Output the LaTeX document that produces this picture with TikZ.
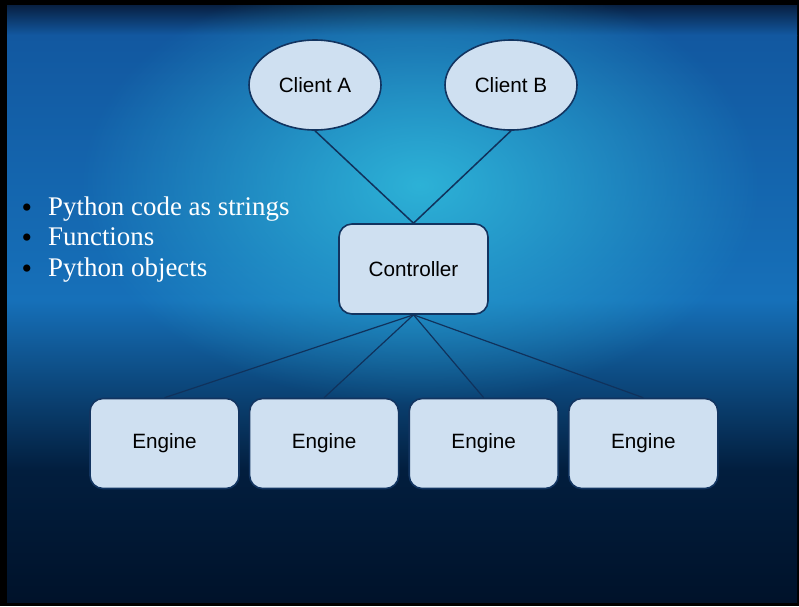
\documentclass[tikz,border=0pt]{standalone}
\usepackage{fontspec}
\setmainfont{Liberation Serif}
\setsansfont{Liberation Sans}
\usepackage{xcolor}
\usetikzlibrary{positioning,shapes.geometric,fadings}

\definecolor{edgedark}{RGB}{8,32,66}
\definecolor{upblue}{RGB}{18,88,160}
\definecolor{midblue}{RGB}{22,112,185}
\definecolor{lowblue}{RGB}{2,30,62}
\definecolor{navy}{RGB}{0,18,42}
\definecolor{glowcyan}{RGB}{45,178,215}
\definecolor{boxfill}{RGB}{207,224,241}
\definecolor{boxline}{RGB}{18,52,96}
\definecolor{wire}{RGB}{16,50,92}
\tikzfading[name=glowfade,inner color=transparent!0,outer color=transparent!100]

\begin{document}
\begin{tikzpicture}[x=1pt,y=-1pt,node distance=9pt]
\tikzstyle{client}=[ellipse,draw=boxline,line width=1.6pt,fill=boxfill,minimum width=132pt,minimum height=90pt,inner sep=0pt,font=\sffamily\fontsize{20.7}{24}\selectfont]
\tikzstyle{box}=[draw=boxline,line width=1.6pt,rounded corners=13pt,fill=boxfill,minimum width=149pt,minimum height=90pt,inner sep=0pt,font=\sffamily\fontsize{20.7}{24}\selectfont]
\tikzstyle{item}=[anchor=base west,inner sep=0pt,text=white,font=\fontsize{26.9}{30}\selectfont]
\tikzstyle{dot}=[anchor=base,inner sep=0pt,text=black,font=\fontsize{30}{34}\selectfont]
\useasboundingbox (0,0) rectangle (799,606);
% slide background
\fill[black] (0,0) rectangle (799,606);
\shade[top color=edgedark,bottom color=upblue] (7,5) rectangle (797,35);
\shade[top color=upblue,bottom color=midblue] (7,35) rectangle (797,300);
\shade[top color=midblue,bottom color=lowblue] (7,300) rectangle (797,470);
\shade[top color=lowblue,bottom color=navy] (7,470) rectangle (797,602);
\begin{scope}
\clip (7,5) rectangle (797,602);
\fill[glowcyan,path fading=glowfade] (420,185) ellipse (340pt and 220pt);
\end{scope}
% bullet list
\node[dot] (b1) at (27,217) {\textbullet};
\node[dot] (b2) at (27,247.5) {\textbullet};
\node[dot] (b3) at (27,278) {\textbullet};
\node[item] (t1) at (48,215) {Python code as strings};
\node[item] (t2) at (48,245.5) {Functions};
\node[item] (t3) at (48,276) {Python objects};
% diagram
\node[client] (cla) at (315,85) {Client A};
\node[client] (clb) at (511,85) {Client B};
\node[box] (ctrl) at (413.5,269) {Controller};
\node[box] (eng1) at (164.5,443.5) {Engine};
\node[box,right=of eng1] (eng2) {Engine};
\node[box,right=of eng2] (eng3) {Engine};
\node[box,right=of eng3] (eng4) {Engine};
\draw[wire,line width=1.5pt] (cla.south) -- (ctrl.north);
\draw[wire,line width=1.5pt] (clb.south) -- (ctrl.north);
\foreach \e in {eng1,eng2,eng3,eng4}
  \draw[wire,line width=1.2pt] (ctrl.south) -- (\e.north);
\end{tikzpicture}
\end{document}
